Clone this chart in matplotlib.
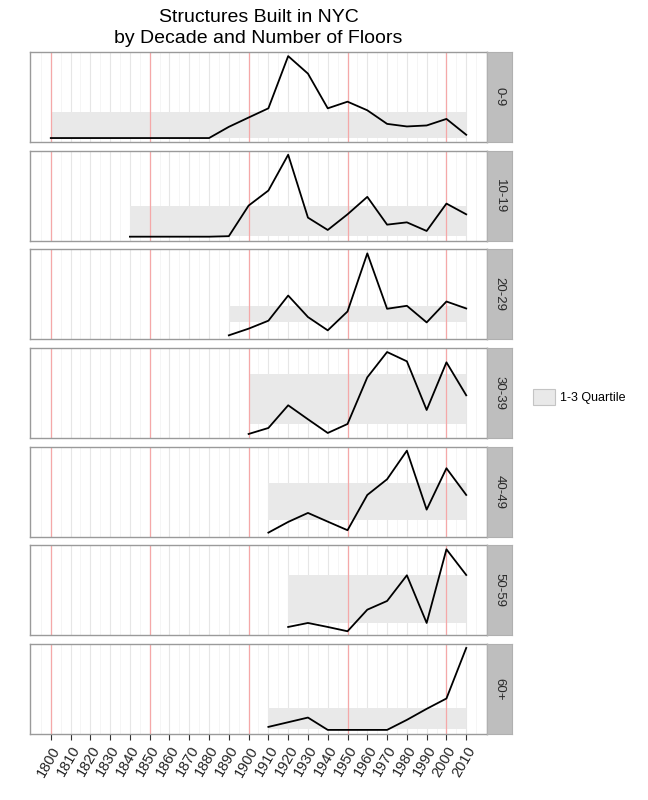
import numpy as np
import matplotlib.pyplot as plt
from matplotlib.patches import Patch

plt.rcParams['font.family'] = ['Liberation Sans', 'DejaVu Sans']

# floor groups (one facet each)
floor_groups = ['0-9', '10-19', '20-29', '30-39', '40-49', '50-59', '60+']

# structures built per decade, relative units
years_0_9 = list(range(1800, 2020, 10))
built_0_9 = [0, 0, 0, 0, 0, 0, 0, 0, 0, 11.3, 20.7, 30.0, 82.7, 65.0, 30.0,
             36.7, 28.0, 14.3, 11.7, 12.7, 19.3, 3.3]

years_10_19 = list(range(1840, 2020, 10))
built_10_19 = [0, 0, 0, 0, 0, 0.5, 31.0, 46.0, 81.7, 19.0, 6.7, 22.3, 39.7,
               12.0, 14.3, 5.7, 33.0, 22.3]

years_20_29 = list(range(1890, 2020, 10))
built_20_29 = [0, 6.7, 14.7, 40.0, 18.4, 5.0, 24.0, 82.4, 26.7, 29.7, 13.0,
               34.0, 27.0]

years_30_39 = list(range(1900, 2020, 10))
built_30_39 = [0, 6.0, 28.7, 14.7, 1.0, 10.0, 56.7, 82.0, 72.7, 24.0, 71.7, 38.7]

years_40_49 = list(range(1910, 2020, 10))
built_40_49 = [0, 10.7, 19.7, 11.0, 2.4, 37.7, 53.4, 82.0, 23.0, 64.4, 37.7]

years_50_59 = list(range(1920, 2020, 10))
built_50_59 = [4.3, 8.3, 4.3, 0, 21.6, 30.3, 56.0, 8.3, 82.0, 56.3]

years_60 = [1910, 1930, 1940, 1950, 1960, 1970, 1980, 1990, 2000, 2010]
built_60 = [3.0, 12.3, 0, 0, 0, 0, 10.0, 21.0, 31.3, 81.7]

# 1st-3rd quartile band per group: (first year, q1, q3)
quartiles = [(1800, 0.0, 26.0), (1840, 0.7, 30.7), (1890, 13.0, 29.7),
             (1900, 9.7, 59.7), (1910, 13.0, 49.4), (1920, 8.6, 56.0),
             (1910, 1.3, 22.0)]

series = [(years_0_9, built_0_9), (years_10_19, built_10_19),
          (years_20_29, built_20_29), (years_30_39, built_30_39),
          (years_40_49, built_40_49), (years_50_59, built_50_59),
          (years_60, built_60)]

tick_years = list(range(1800, 2020, 10))
red_years = [1800, 1850, 1900, 1950, 2000]

W, H = 648, 800
fig = plt.figure(figsize=(W / 100, H / 100), dpi=100)

band_col = '#E9E9E9'
top, bottom, gap = 52, 734, 8.5
ph = (bottom - top - 6 * gap) / 7
x0, x1, strip_w = 30, 487, 25

for i, (grp, (yrs, vals), (qstart, q1, q3)) in enumerate(zip(floor_groups, series, quartiles)):
    ptop = top + i * (ph + gap)
    ax = fig.add_axes((x0 / W, 1 - (ptop + ph) / H, (x1 - x0) / W, ph / H))
    sx = fig.add_axes((x1 / W, 1 - (ptop + ph) / H, strip_w / W, ph / H))

    for y in np.arange(1795, 2020, 10):
        ax.axvline(y, color='#F4F4F4', lw=0.6, zorder=0)
    for y in tick_years:
        ax.axvline(y, color='#E6E6E6', lw=0.8, zorder=0)
    for y in red_years:
        ax.axvline(y, color='#F5A8A8', lw=0.9, zorder=1)

    ax.fill_between([qstart, 2010], q1, q3, color=band_col, lw=0, zorder=0.5)
    ax.plot(yrs, vals, color='black', lw=1.3, zorder=3)

    ax.set_xlim(1789.5, 2020.5)
    ax.margins(y=0.05)
    ax.set_yticks([])
    for s in ax.spines.values():
        s.set_color('#9A9A9A')
        s.set_linewidth(1.0)

    if i == 6:
        ax.set_xticks(tick_years)
        ax.set_xticklabels([str(t) for t in tick_years], rotation=60,
                           ha='right', va='top', rotation_mode='anchor',
                           fontsize=10.5, color='#222222')
        ax.tick_params(axis='x', length=4, width=0.8, color='#333333', pad=3)
    else:
        ax.set_xticks([])

    sx.set_facecolor('#BEBEBE')
    sx.set_xticks([])
    sx.set_yticks([])
    for s in sx.spines.values():
        s.set_color('#B0B0B0')
        s.set_linewidth(0.8)
    sx.text(0.5, 0.5, grp, rotation=270, ha='center', va='center',
            fontsize=9.5, color='#2A2A2A', transform=sx.transAxes)

fig.text((x0 + x1) / 2 / W, 1 - 9 / H,
         'Structures Built in NYC\nby Decade and Number of Floors',
         ha='center', va='top', fontsize=14, linespacing=1.3)

fig.legend(handles=[Patch(facecolor=band_col, edgecolor='#C4C4C4', lw=0.8,
                          label='1-3 Quartile')],
           loc='center left', bbox_to_anchor=(522 / W, 1 - 397 / H),
           frameon=False, fontsize=9, handlelength=1.7, handleheight=1.7,
           handletextpad=0.4)

fig.savefig('out.png', dpi=100)
